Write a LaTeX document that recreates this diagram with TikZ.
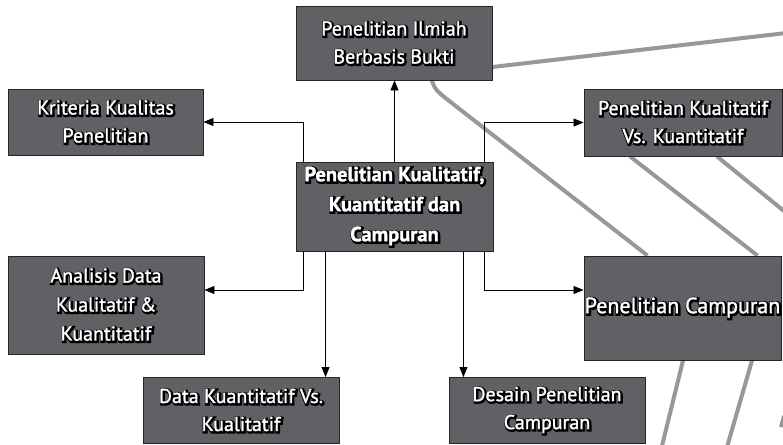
\documentclass[tikz,border=0pt]{standalone}
\usepackage{fontspec}
\setmainfont{PT Sans}
\usetikzlibrary{arrows.meta,calc,backgrounds}

% white lettering over an emboldened black copy that acts as halo and shadow
\newcommand\gl[1]{\leavevmode
  \rlap{\kern1pt\raisebox{-1pt}{\addfontfeature{FakeBold=16}\color{black}#1}}%
  {\addfontfeature{FakeBold=1.5}\color{white}#1}}

\definecolor{boxgray}{RGB}{96,97,101}
\definecolor{linkgray}{RGB}{152,152,154}

\tikzset{
  topic/.style={draw=black!85, line width=0.9pt, fill=boxgray, align=center,
    inner sep=0pt, font=\fontsize{20}{28}\selectfont},
  arr/.style={draw=black, line width=0.8pt,
    -{Triangle[length=10pt,width=8pt]}},
  link/.style={draw=linkgray, line width=4pt},
}

\begin{document}
\begin{tikzpicture}[x=1pt,y=-1pt]
  \useasboundingbox (0,0) rectangle (783,444);
  \clip (0,0) rectangle (783,444);

  % free ends of the grey links, beyond the right and bottom edges
  \coordinate (e1) at (795,32);
  \coordinate (e2) at (795,220);
  \coordinate (e3) at (660,454);
  \coordinate (e4) at (725,454);
  \coordinate (s1) at (700,105);
  \coordinate (s1e) at (795,105);
  \coordinate (s2) at (700,152);
  \coordinate (s2e) at (795,152);
  \coordinate (m1) at (784,416);
  \coordinate (m1e) at (781,427);

  \node[topic, minimum width=196, minimum height=74] (top) at (394,43)
    {\gl{Penelitian Ilmiah}\\\gl{Berbasis Bukti}};
  \node[topic, minimum width=195, minimum height=66] (krit) at (105.5,122)
    {\gl{Kriteria Kualitas}\\\gl{Penelitian}};
  \node[topic, minimum width=197, minimum height=89,
    font=\fontsize{20.5}{30}\selectfont\bfseries] (mid) at (394.5,206.5)
    {\gl{Penelitian Kualitatif,}\\\gl{Kuantitatif dan}\\\gl{Campuran}};
  \node[topic, minimum width=198, minimum height=67] (kvk) at (683,122.5)
    {\gl{Penelitian Kualitatif}\\\gl{Vs. Kuantitatif}};
  \node[topic, minimum width=197, minimum height=104,
    font=\fontsize{22}{28}\selectfont] (camp) at (682.5,308)
    {\gl{Penelitian Campuran}};
  \node[topic, minimum width=196, minimum height=98,
    font=\fontsize{20}{29}\selectfont] (anal) at (106,305)
    {\gl{Analisis Data}\\\gl{Kualitatif \&}\\\gl{Kuantitatif}};
  \node[topic, minimum width=196, minimum height=66] (data) at (241,410.5)
    {\gl{Data Kuantitatif Vs.}\\\gl{Kualitatif}};
  \node[topic, minimum width=196, minimum height=66] (desain) at (547,410.5)
    {\gl{Desain Penelitian}\\\gl{Campuran}};

  % grey links, behind the boxes
  \begin{pgfonlayer}{background}
    \draw[link] ([yshift=-24pt]top.east) -- (e1);
    \draw[link] ([xshift=38pt]top.south) .. controls ([xshift=40pt,yshift=-9pt]top.south)
      and ([xshift=46pt,yshift=-13pt]top.south) .. ([xshift=52pt,yshift=-18pt]top.south)
      -- ([xshift=-35pt]camp.north);
    \draw[link] ([xshift=-53pt]kvk.south) -- ([xshift=75pt]camp.north);
    \draw[link] ([xshift=34pt]kvk.south) -- (e2);
    \draw[link] ([xshift=0.5pt]camp.south) -- (e3);
    \draw[link] ([xshift=69.5pt]camp.south) -- (e4);
    \draw[link] (s1) -- (s1e);
    \draw[link] (s2) -- (s2e);
    \draw[link] (m1) -- (m1e);
  \end{pgfonlayer}

  % black arrows from the central topic
  \draw[arr] (mid.north) -- (mid.north |- top.south);
  \draw[arr] ([xshift=8pt]mid.north west) |- (krit.east);
  \draw[arr] ([xshift=-9pt]mid.north east) |- (kvk.west);
  \draw[arr] ([xshift=8pt]mid.south west) |- ([yshift=15pt]anal.east);
  \draw[arr] ([xshift=-9pt]mid.south east) |- ([yshift=18pt]camp.west);
  \draw[arr] ([xshift=30pt]mid.south west) -- ([xshift=30pt]mid.south west |- data.north);
  \draw[arr] ([xshift=-30pt]mid.south east) -- ([xshift=-30pt]mid.south east |- desain.north);
\end{tikzpicture}
\end{document}
